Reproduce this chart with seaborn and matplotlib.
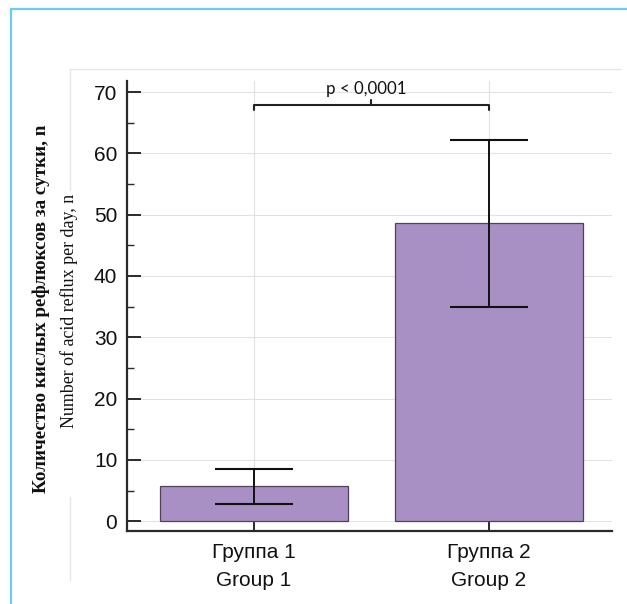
import matplotlib
matplotlib.use("Agg")
import matplotlib.pyplot as plt
from matplotlib.lines import Line2D
from matplotlib.ticker import MultipleLocator
import seaborn as sns
import pandas as pd
import numpy as np

# ---- data ----
categories = ["Группа 1\nGroup 1", "Группа 2\nGroup 2"]
means = [5.7, 48.6]
err_low = [2.8, 34.9]     # lower end of error bar
err_high = [8.5, 62.2]    # upper end of error bar
y_ticks = [0, 10, 20, 30, 40, 50, 60, 70]
p_label = "p < 0,0001"
bracket_level = 67.9
ylabel_ru = "Количество кислых рефлюксов за сутки, n"
ylabel_en = "Number of acid reflux per day, n"

sns.set_theme(style="white")
plt.rcParams['font.family'] = ['Liberation Sans', 'DejaVu Sans']

W, H = 627, 604
fig = plt.figure(figsize=(W / 100, H / 100), dpi=100)
fig.patch.set_facecolor("white")
ax = fig.add_axes([127 / W, 1 - 531 / H, (612 - 127) / W, (531 - 81) / H])

df = pd.DataFrame({"group": categories, "value": means})
sns.barplot(data=df, x="group", y="value", color="#a890c4", saturation=1,
            width=0.8, edgecolor="#4e4358", linewidth=0.9, errorbar=None,
            ax=ax, zorder=2)

x = np.arange(len(categories))
m = np.array(means)
lower = m - np.array(err_low)
upper = np.array(err_high) - m
ax.errorbar(x, m, yerr=[lower, upper], fmt='none', ecolor='#111111',
            elinewidth=1.4, capsize=28, capthick=1.5, zorder=3)

ax.set_xlim(-0.54, 1.523)
ax.set_ylim(-1.6, 71.8)
ax.set_yticks(y_ticks)
ax.yaxis.set_minor_locator(MultipleLocator(5))
ax.set_xlabel("")
ax.set_ylabel("")

ax.grid(True, which='major', color='#e2e2e2', lw=0.8)
ax.set_axisbelow(True)

for s in ["top", "right"]:
    ax.spines[s].set_visible(False)
for s in ["left", "bottom"]:
    ax.spines[s].set_color("#2a2a2a")
    ax.spines[s].set_linewidth(1.6)

ax.tick_params(axis='y', which='major', direction='in', length=10, width=1.4,
               color='#2a2a2a', labelsize=15, pad=7, left=True)
ax.tick_params(axis='y', which='minor', direction='in', length=5, width=1.0,
               color='#2a2a2a', left=True)
ax.tick_params(axis='x', which='major', direction='in', length=10, width=1.4,
               color='#2a2a2a', labelsize=15, pad=9, bottom=True)
for lbl in ax.get_xticklabels():
    lbl.set_linespacing(1.6)
for lbl in ax.get_xticklabels() + ax.get_yticklabels():
    lbl.set_color("#111111")

# significance bracket
drop = 0.9
ax.plot([x[0], x[0], x[1], x[1]],
        [bracket_level - drop, bracket_level, bracket_level, bracket_level - drop],
        color='#222222', lw=1.5, zorder=4, solid_joinstyle='round')
xm = x.mean()
ax.plot([xm, xm], [bracket_level, bracket_level + 0.8], color='#222222', lw=1.5, zorder=4)
ax.text(xm - 0.02, 70.5, p_label, ha='center', va='center', fontsize=12.2,
        family=['Lato', 'DejaVu Sans'], color='#111111')

# y labels (two lines, different styles)
fig.text(41 / W, 1 - 309 / H, ylabel_ru, rotation=90, ha='center', va='center',
         fontsize=13.8, fontweight='bold', family=['Liberation Serif', 'DejaVu Serif'],
         color='#111111')
fig.text(69 / W, 1 - 311 / H, ylabel_en, rotation=90, ha='center', va='center',
         fontsize=12.9, family=['Liberation Serif', 'DejaVu Serif'], color='#111111')

# decorative frames
blue = '#6ccdf0'
fig.add_artist(Line2D([11 / W, 11 / W], [0, 1 - 9 / H], color=blue, lw=1.6,
                      transform=fig.transFigure))
fig.add_artist(Line2D([11 / W, 1], [1 - 9 / H, 1 - 9 / H], color=blue, lw=1.6,
                      transform=fig.transFigure))
gray = '#e6e6e6'
fig.add_artist(Line2D([70 / W, 620 / W], [1 - 69 / H, 1 - 69 / H], color=gray, lw=1,
                      transform=fig.transFigure))
fig.add_artist(Line2D([70 / W, 70 / W], [1 - 69 / H, 1 - 190 / H], color=gray, lw=1,
                      transform=fig.transFigure))
fig.add_artist(Line2D([70 / W, 70 / W], [1 - 497 / H, 1 - 580 / H], color=gray, lw=1,
                      transform=fig.transFigure))

fig.savefig("out.png", dpi=100)
